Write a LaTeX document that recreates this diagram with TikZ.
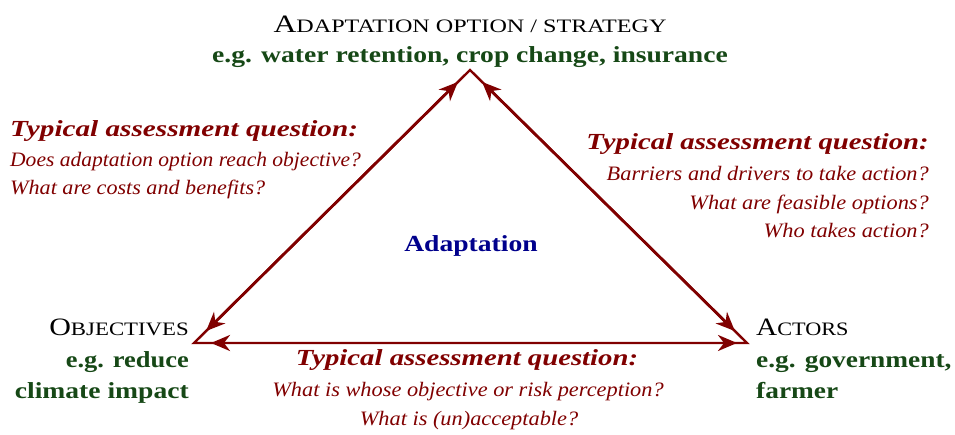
\documentclass[tikz,border=0pt]{standalone}
\usepackage{fontspec}
\setmainfont{Liberation Serif}
\usetikzlibrary{arrows.meta}
\definecolor{dred}{RGB}{128,0,0}
\definecolor{dgreen}{RGB}{22,72,22}
\definecolor{navy}{RGB}{0,0,140}
\newcommand{\fsz}[1]{\fontsize{#1}{#1}\selectfont}
\newcommand{\sx}[2]{\scalebox{#1}[1]{#2}}
\tikzset{
  side/.style={draw=dred, line width=2.8pt, {Stealth[length=19pt,width=16pt,inset=6pt]}-{Stealth[length=19pt,width=16pt,inset=6pt]}, shorten <=17pt, shorten >=17pt},
  outline/.style={draw=dred, line width=2.4pt, line join=miter},
  head/.style={inner sep=0pt, text=black},
  green/.style={inner sep=0pt, text=dgreen, font=\fsz{23}\bfseries},
  qtitle/.style={inner sep=0pt, text=dred, font=\fsz{23}\bfseries\itshape},
  qline/.style={inner sep=0pt, text=dred, font=\fsz{20.5}\itshape},
}
\begin{document}
\begin{tikzpicture}[x=1pt,y=-1pt]
\useasboundingbox (0,0) rectangle (955,435);
\coordinate (T) at (470,70);
\coordinate (L) at (194,343);
\coordinate (R) at (747,343);
\draw[outline] (T) -- (L) -- (R) -- cycle;
\draw[side] (T) -- (L);
\draw[side, shorten >=10pt] (L) -- (R);
\draw[side] (R) -- (T);

\node[head, anchor=base] (opt) at (470,33) {\sx{1.27}{{\fsz{25}A}{\fsz{19}DAPTATION OPTION / STRATEGY}}};
\node[green, anchor=base] (optex) at (470,63) {\sx{1.2}{e.g. water retention, crop change, insurance}};

\node[qtitle, anchor=base west] (lq1) at (10,137) {\sx{1.27}{Typical assessment question:}};
\node[qline, anchor=base west] (lq2) at (10,167) {\sx{1.05}{Does adaptation option reach objective?}};
\node[qline, anchor=base west] (lq3) at (10,195) {\sx{1.08}{What are costs and benefits?}};

\node[qtitle, anchor=base east] (rq1) at (929,150) {\sx{1.25}{Typical assessment question:}};
\node[qline, anchor=base east] (rq2) at (929,181) {\sx{1.09}{Barriers and drivers to take action?}};
\node[qline, anchor=base east] (rq3) at (929,210) {\sx{1.09}{What are feasible options?}};
\node[qline, anchor=base east] (rq4) at (929,238) {\sx{1.09}{Who takes action?}};

\node[inner sep=0pt, anchor=base, text=navy, font=\fsz{23}\bfseries] (ad) at (471,252) {\sx{1.2}{Adaptation}};

\node[head, anchor=base east] (obj) at (189,335) {\sx{1.2}{{\fsz{25}O}{\fsz{19}BJECTIVES}}};
\node[green, anchor=base east] (obj2) at (189,367) {\sx{1.15}{e.g. reduce}};
\node[green, anchor=base east] (obj3) at (189,398) {\sx{1.2}{climate impact}};

\node[head, anchor=base west] (act) at (756,335) {\sx{1.17}{{\fsz{25}A}{\fsz{19}CTORS}}};
\node[green, anchor=base west] (act2) at (756,367) {\sx{1.19}{e.g. government,}};
\node[green, anchor=base west] (act3) at (756,398) {\sx{1.19}{farmer}};

\node[qtitle, anchor=base] (bq1) at (467,365) {\sx{1.25}{Typical assessment question:}};
\node[qline, anchor=base] (bq2) at (468,396) {\sx{1.09}{What is whose objective or risk perception?}};
\node[qline, anchor=base] (bq3) at (469,425) {\sx{1.09}{What is (un)acceptable?}};
\end{tikzpicture}
\end{document}
